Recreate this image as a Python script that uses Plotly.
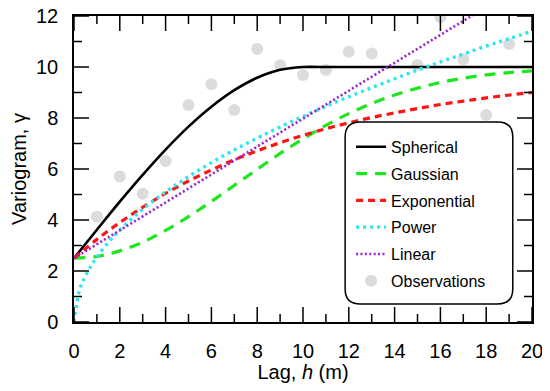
import plotly.graph_objects as go

# ---------------- data ----------------
spherical_h = list(range(0, 21))
spherical_g = [2.50, 3.62, 4.72, 5.77, 6.76, 7.66, 8.44, 9.09, 9.58, 9.89, 10.0,
               10.0, 10.0, 10.0, 10.0, 10.0, 10.0, 10.0, 10.0, 10.0, 10.0]

gaussian_h = list(range(0, 21))
gaussian_g = [2.50, 2.57, 2.79, 3.13, 3.59, 4.13, 4.73, 5.36, 5.99, 6.61, 7.18,
              7.71, 8.17, 8.57, 8.90, 9.17, 9.39, 9.56, 9.69, 9.78, 9.85]

exponential_h = list(range(0, 21))
exponential_g = [2.50, 3.24, 3.90, 4.50, 5.04, 5.53, 5.96, 6.36, 6.71, 7.03, 7.32,
                 7.58, 7.81, 8.02, 8.20, 8.37, 8.53, 8.66, 8.79, 8.90, 9.00]

power_h = [0, 0.25, 0.5, 0.75, 1, 1.5, 2, 3, 4, 5, 6, 7, 8, 9, 10,
           11, 12, 13, 14, 15, 16, 17, 18, 19, 20]
power_g = [0.0, 1.28, 1.80, 2.21, 2.55, 3.12, 3.61, 4.42, 5.10, 5.70, 6.25, 6.75,
           7.21, 7.65, 8.06, 8.46, 8.83, 9.19, 9.54, 9.88, 10.20, 10.51, 10.82,
           11.11, 11.40]

linear_h = [0, 20]
linear_g = [2.50, 13.45]

obs_h = [1, 2, 3, 4, 5, 6, 7, 8, 9, 10, 11, 12, 13, 15, 16, 17, 18, 19]
obs_g = [4.13, 5.71, 5.03, 6.31, 8.51, 9.32, 8.31, 10.71, 10.07, 9.69, 9.88,
         10.60, 10.53, 10.08, 11.95, 10.30, 8.12, 10.90]

x_ticks = [0, 2, 4, 6, 8, 10, 12, 14, 16, 18, 20]
x_minor = [1, 3, 5, 7, 9, 11, 13, 15, 17, 19]
y_ticks = [0, 2, 4, 6, 8, 10, 12]
y_minor = [1, 3, 5, 7, 9, 11]

# ---------------- figure ----------------
FONT = "Liberation Sans, Arial, sans-serif"
PLOT_W, PLOT_H = 458, 306          # plot-area size in px
MAJOR_LEN, MINOR_LEN = 15, 8       # tick lengths in px

fig = go.Figure()

fig.add_trace(go.Scatter(x=obs_h, y=obs_g, mode="markers", name="Observations",
                         marker=dict(color="#dcdcdc", size=12),
                         legendgroup="g6", legendrank=6))
fig.add_trace(go.Scatter(x=spherical_h, y=spherical_g, mode="lines", name="Spherical",
                         line=dict(color="black", width=2.6, shape="spline", smoothing=0.6),
                         legendgroup="g1", legendrank=1))
fig.add_trace(go.Scatter(x=gaussian_h, y=gaussian_g, mode="lines", name="Gaussian",
                         line=dict(color="#1ee61e", width=3.2, dash="11px,8px", shape="spline"),
                         legendgroup="g2", legendrank=2))
fig.add_trace(go.Scatter(x=exponential_h, y=exponential_g, mode="lines", name="Exponential",
                         line=dict(color="#ff1414", width=3.2, dash="7px,5px", shape="spline"),
                         legendgroup="g3", legendrank=3))
fig.add_trace(go.Scatter(x=power_h, y=power_g, mode="lines", name="Power",
                         line=dict(color="#2ee6f2", width=3.4, dash="3px,4px", shape="spline"),
                         legendgroup="g4", legendrank=4))
fig.add_trace(go.Scatter(x=linear_h, y=linear_g, mode="lines", name="Linear",
                         line=dict(color="#9e1fd2", width=2.6, dash="2px,2.4px"),
                         legendgroup="g5", legendrank=5))

# inside ticks on all four sides, placed through the axes' own scales
tick_line = dict(color="black", width=1.5)
for vals, length in ((x_ticks, MAJOR_LEN), (x_minor, MINOR_LEN)):
    f = length / PLOT_H
    for v in vals:
        fig.add_shape(type="line", xref="x", yref="paper", x0=v, x1=v, y0=0, y1=f,
                      line=tick_line, layer="above")
        fig.add_shape(type="line", xref="x", yref="paper", x0=v, x1=v, y0=1, y1=1 - f,
                      line=tick_line, layer="above")
for vals, length in ((y_ticks, MAJOR_LEN), (y_minor, MINOR_LEN)):
    f = length / PLOT_W
    for v in vals:
        fig.add_shape(type="line", xref="paper", yref="y", y0=v, y1=v, x0=0, x1=f,
                      line=tick_line, layer="above")
        fig.add_shape(type="line", xref="paper", yref="y", y0=v, y1=v, x0=1, x1=1 - f,
                      line=tick_line, layer="above")

# rounded legend box (paper coordinates)
x0, x1, y0, y1 = 0.592, 0.958, 0.059, 0.654
rx, ry = 0.033, 0.049
path = (f"M {x0+rx},{y1} L {x1-rx},{y1} Q {x1},{y1} {x1},{y1-ry} "
        f"L {x1},{y0+ry} Q {x1},{y0} {x1-rx},{y0} L {x0+rx},{y0} "
        f"Q {x0},{y0} {x0},{y0+ry} L {x0},{y1-ry} Q {x0},{y1} {x0+rx},{y1} Z")
fig.add_shape(type="path", path=path, xref="paper", yref="paper",
              line=dict(color="black", width=1.5), fillcolor="white", layer="above")

axis_common = dict(showline=True, linecolor="black", linewidth=1.5, mirror=True,
                   ticks="", showgrid=False, zeroline=False, automargin=False,
                   ticklabeloverflow="allow", layer="above traces",
                   tickfont=dict(family=FONT, size=20, color="black"))

fig.update_xaxes(range=[0, 20], tickmode="array", tickvals=x_ticks,
                 ticktext=[str(v) for v in x_ticks],
                 title=dict(text="Lag, <i>h</i> (m)", font=dict(family=FONT, size=20, color="black"),
                            standoff=4),
                 ticklabelstandoff=10, **axis_common)
fig.update_yaxes(range=[0, 12], tickmode="array", tickvals=y_ticks,
                 ticktext=[str(v) for v in y_ticks],
                 title=dict(text="Variogram, γ", font=dict(family=FONT, size=20, color="black"),
                            standoff=4),
                 ticklabelstandoff=10, **axis_common)

# the page body has an 8px margin, so the figure is sized/placed to compensate
fig.update_layout(
    width=542, height=375,
    margin=dict(l=66, r=18, t=8, b=61, autoexpand=False),
    paper_bgcolor="white", plot_bgcolor="white",
    font=dict(family=FONT, color="black"),
    legend=dict(x=0.605, y=0.628, xanchor="left", yanchor="top",
                bgcolor="rgba(0,0,0,0)", borderwidth=0,
                font=dict(family=FONT, size=16, color="black"),
                tracegroupgap=3, itemwidth=30),
)

fig.write_html("out.html")
